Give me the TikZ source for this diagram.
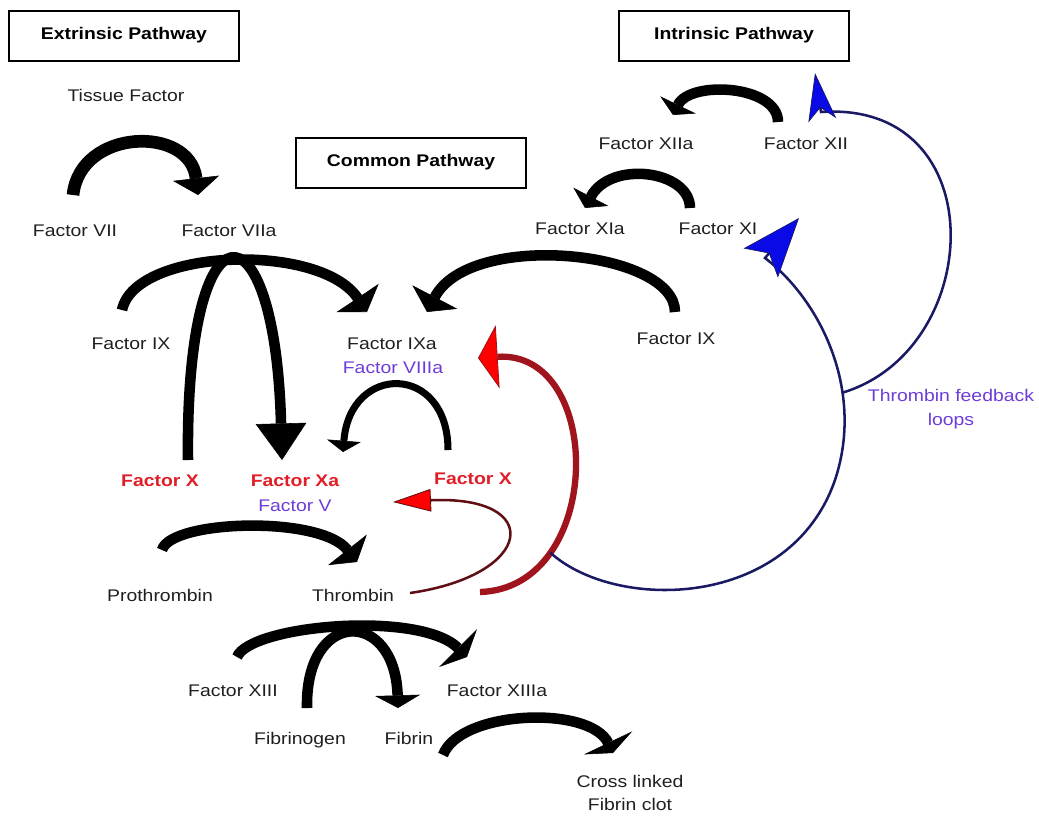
\documentclass[tikz,border=0pt]{standalone}
\usepackage{fontspec}
\setmainfont{Liberation Sans}[FakeStretch=1.15]
\usetikzlibrary{arrows.meta}
\definecolor{factorred}{RGB}{225,30,40}
\definecolor{cofactor}{RGB}{110,60,215}
\definecolor{navyline}{RGB}{25,25,100}
\definecolor{darkred}{RGB}{160,20,30}
\definecolor{thinred}{RGB}{95,15,20}
\definecolor{headblue}{RGB}{10,10,230}
\tikzset{
	factor/.style={font=\fontsize{12}{17}\selectfont, text=black!88, inner sep=1pt, text height=8.6pt, text depth=0pt},
	redfactor/.style={factor, font=\fontsize{12}{17}\selectfont\bfseries, text=factorred},
	cofac/.style={factor, text=cofactor},
	twoline/.style={font=\fontsize{12}{17}\selectfont, text=black!88, inner sep=1pt, align=center},
	pathbox/.style={draw, line width=2pt, minimum width=5.75cm, minimum height=1.25cm, font=\fontsize{12}{17}\selectfont\bfseries, text height=8.6pt, text depth=4pt},
	fatarrow/.style 2 args={line width=7.5pt, -{Triangle[width=#1,length=#2,line width=0.4pt]}},
	redarrow/.style={draw=darkred, line width=4.5pt, -{Triangle[width=45pt,length=14pt,fill=red,line width=0.6pt]}},
	thinredarrow/.style={draw=thinred, line width=1.8pt, -{Triangle[width=16pt,length=27pt,fill=red,line width=0.6pt]}},
	feedarrow/.style 2 args={draw=navyline, line width=1.8pt, -{Stealth[length=#1,width=#2,inset=9pt,fill=headblue,line width=0.5pt]}}
}
\begin{document}
\begin{tikzpicture}[x=0.025cm, y=-0.025cm]
	\useasboundingbox (0,0) rectangle (1039,817);

	\node[pathbox] (ext) at (124,36) {Extrinsic Pathway};
	\node[pathbox] (com) at (411,163) {Common Pathway};
	\node[pathbox] (int) at (734,36) {Intrinsic Pathway};

	\node[factor] (tf) at (126,95) {Tissue Factor};
	\node[factor] (f7) at (75,230) {Factor VII};
	\node[factor] (f7a) at (229,230) {Factor VIIa};

	\node[factor] (f12a) at (646,143) {Factor XIIa};
	\node[factor] (f12) at (806,143) {Factor XII};
	\node[factor] (f11a) at (580,228) {Factor XIa};
	\node[factor] (f11) at (718,228) {Factor XI};
	\node[factor] (f9 r) at (676,338) {Factor IX};

	\node[factor] (f9 l) at (131,343) {Factor IX};
	\node[factor] (f9a) at (392,343) {Factor IXa};
	\node[cofac] (f8a) at (393,367) {Factor VIIIa};
	\node[redfactor] (f10 l) at (160,480) {Factor X};
	\node[redfactor] (f10a) at (295,480) {Factor Xa};
	\node[cofac] (f5) at (295,505) {Factor V};
	\node[redfactor] (f10 r) at (473,478) {Factor X};
	\node[twoline, text=cofactor] (loops) at (951,409) {Thrombin feedback\\loops};

	\node[factor] (pro) at (160,595) {Prothrombin};
	\node[factor] (thr) at (353,595) {Thrombin};
	\node[factor] (f13) at (233,690) {Factor XIII};
	\node[factor] (f13a) at (497,690) {Factor XIIIa};
	\node[factor] (fgn) at (300,738) {Fibrinogen};
	\node[factor] (fbn) at (409,738) {Fibrin};
	\node[twoline] (clot) at (630,793) {Cross linked\\Fibrin clot};

	\draw[fatarrow={33pt}{12pt}, line width=9pt] ([shift={(-2,-35)}]f7.center) .. controls +(7,-67) and +(-8,-70) .. ([shift={(-31,-35)}]f7a.center);

	\draw[fatarrow={28pt}{8pt}] ([shift={(-28,-21)}]f12.center) .. controls +(0,-37) and +(17,-35) .. ([shift={(27,-28)}]f12a.center);
	\draw[fatarrow={28pt}{9pt}] ([shift={(-28,-20)}]f11.center) .. controls +(0,-38) and +(25,-48) .. ([shift={(5,-20)}]f11a.center);
	\draw[fatarrow={36pt}{12pt}] ([shift={(-1,-26)}]f9 r.center) .. controls +(0,-62) and +(43,-82) .. ([shift={(35,-31)}]f9a.center);

	\draw[fatarrow={36pt}{12pt}] ([shift={(-9,-33)}]f9 l.center) .. controls +(13,-62) and +(-47,-70) .. ([shift={(-25,-31)}]f9a.center);
	\draw[fatarrow={36pt}{26pt}] ([shift={(28,-20)}]f10 l.center) .. controls +(-3,-264) and +(-7,-264) .. ([shift={(-13,-20)}]f10a.center);
	\draw[fatarrow={24pt}{8pt}, line width=5pt] ([shift={(-25,-28)}]f10 r.center) .. controls +(0,-87) and +(7,-89) .. ([shift={(48,-28)}]f10a.center);
	\draw[fatarrow={35pt}{11pt}] ([shift={(2,-45)}]pro.center) .. controls +(8,-30) and +(-37,-47) .. ([shift={(4,-33)}]thr.center);
	\draw[fatarrow={38pt}{9pt}] ([shift={(4,-33)}]f13.center) .. controls +(13,-32) and +(-47,-47) .. ([shift={(-30,-33)}]f13a.center);
	\draw[fatarrow={32pt}{9pt}] ([shift={(7,-30)}]fgn.center) .. controls +(-2,-100) and +(-3,-100) .. ([shift={(-11,-30)}]fbn.center);
	\draw[fatarrow={38pt}{8pt}] ([shift={(34,17)}]fbn.center) .. controls +(17,-45) and +(-23,-48) .. ([shift={(-17,-40)}]clot.center);

	% thrombin feedback
	\draw[redarrow] ([shift={(127,-3)}]thr.center) .. controls +(125,-4) and +(127,-8) .. ([shift={(85,-9)}]f8a.center) coordinate[pos=0.25] (fb);
	\draw[thinredarrow] ([shift={(57,-2)}]thr.center) .. controls +(125,-18) and +(152,-7) .. ([shift={(98,-3)}]f5.center);
	\draw[feedarrow={42pt}{32pt}] (fb) .. controls +(65,59) and +(-45,130) .. (835,480) .. controls +(30,-90) and +(55,42) .. ([shift={(47,30)}]f11.center) coordinate[pos=0.33] (fb2) -- ([shift={(81,-10)}]f11.center);
	\draw[feedarrow={34pt}{20pt}] (fb2) .. controls +(143,-43) and +(174,-12) .. ([shift={(15,-31)}]f12.center) -- ([shift={(9,-70)}]f12.center);
\end{tikzpicture}
\end{document}
